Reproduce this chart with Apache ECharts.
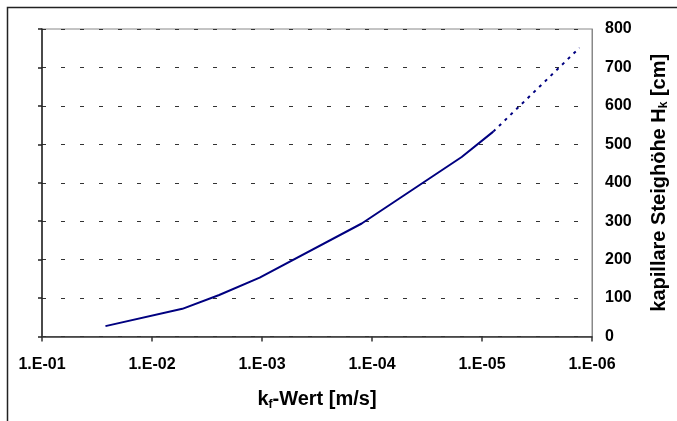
<!DOCTYPE html>
<html>
<head>
<meta charset="utf-8">
<script src="https://cdn.jsdelivr.net/npm/echarts@6/dist/echarts.min.js"></script>
<style>
html, body { margin: 0; padding: 0; background: #fff; }
#chart { width: 677px; height: 421px; }
</style>
</head>
<body>
<div id="chart"></div>
<script>
// kf-Wert [m/s] -> kapillare Steighöhe Hk [cm]
var kfMeasured = [2.65e-2, 5.3e-3, 2.45e-3, 1.05e-3, 1.24e-4, 1.53e-5, 7.9e-6];
var hkMeasured = [27, 72, 108, 153, 294, 467, 533];
// extrapolierter Teil (gestrichelt)
var kfExtrap = [7.9e-6, 1.3e-6];
var hkExtrap = [533, 751];
// Achsenbeschriftung
var xTickValues = [1e-1, 1e-2, 1e-3, 1e-4, 1e-5, 1e-6];
var xTickLabels = ['1.E-01', '1.E-02', '1.E-03', '1.E-04', '1.E-05', '1.E-06'];
var yMin = 0, yMax = 800, yStep = 100;

var font = 'Liberation Sans, Arial, sans-serif';
var navy = '#000080';

function pairs(xs, ys) {
    return xs.map(function (x, i) { return [x, ys[i]]; });
}

var chart = echarts.init(document.getElementById('chart'));
var option = {
    animation: false,
    backgroundColor: '#fff',
    textStyle: { fontFamily: font },
    grid: {
        left: 42, top: 29, right: 85, bottom: 84.5,
        show: true, borderColor: '#888', borderWidth: 1,
        containLabel: false, outerBoundsMode: 'none'
    },
    graphic: [{
        type: 'rect',
        shape: { x: 7.5, y: 7.5, width: 720, height: 460 },
        style: { fill: 'none', stroke: '#222', lineWidth: 1.5 },
        silent: true
    }],
    xAxis: {
        type: 'log',
        logBase: 10,
        min: 1e-6,
        max: 1e-1,
        inverse: true,
        axisLine: { show: true, lineStyle: { color: '#333', width: 1.5 } },
        axisTick: { show: true, inside: false, length: 5, lineStyle: { color: '#333', width: 1.5 } },
        axisLabel: {
            margin: 20,
            fontSize: 16,
            fontWeight: 'bold',
            color: '#000',
            fontFamily: font,
            formatter: function (v) {
                var best = 0, d = Infinity;
                xTickValues.forEach(function (t, i) {
                    var dd = Math.abs(Math.log10(t) - Math.log10(v));
                    if (dd < d) { d = dd; best = i; }
                });
                return xTickLabels[best];
            }
        },
        splitLine: { show: false },
        name: '{b|k}{s|f}{b|-Wert [m/s]}',
        nameLocation: 'middle',
        nameGap: 52,
        nameTextStyle: {
            rich: {
                b: { fontSize: 20, fontWeight: 'bold', color: '#000', fontFamily: font },
                s: { fontSize: 12, fontWeight: 'bold', color: '#000', fontFamily: font, padding: [10, 0, 0, 0] }
            }
        }
    },
    yAxis: [{
        type: 'value',
        position: 'left',
        min: yMin, max: yMax, interval: yStep,
        axisLine: { show: true, lineStyle: { color: '#222', width: 1.5 } },
        axisTick: { show: true, inside: false, length: 4, lineStyle: { color: '#222', width: 1.5 } },
        axisLabel: { show: false },
        splitLine: { show: false }
    }, {
        type: 'value',
        position: 'right',
        min: yMin, max: yMax, interval: yStep,
        axisLine: { show: true, lineStyle: { color: '#888', width: 1 } },
        axisTick: { show: false },
        axisLabel: {
            margin: 13,
            fontSize: 16,
            fontWeight: 'bold',
            color: '#000',
            fontFamily: font
        },
        splitLine: { show: true, lineStyle: { color: '#333', width: 1, type: [4, 15] } },
        name: '{b|kapillare Steighöhe H}{s|k}{b| [cm]}',
        nameLocation: 'middle',
        nameRotate: 90,
        nameGap: 56,
        nameTextStyle: {
            rich: {
                b: { fontSize: 20, fontWeight: 'bold', color: '#000', fontFamily: font },
                s: { fontSize: 12, fontWeight: 'bold', color: '#000', fontFamily: font, padding: [10, 0, 0, 0] }
            }
        }
    }],
    series: [{
        type: 'line',
        yAxisIndex: 1,
        data: pairs(kfMeasured, hkMeasured),
        symbol: 'none',
        lineStyle: { color: navy, width: 2 }
    }, {
        type: 'line',
        yAxisIndex: 1,
        data: pairs(kfExtrap, hkExtrap),
        symbol: 'none',
        lineStyle: { color: navy, width: 2, type: [3, 5] }
    }]
};
chart.setOption(option);
</script>
</body>
</html>
